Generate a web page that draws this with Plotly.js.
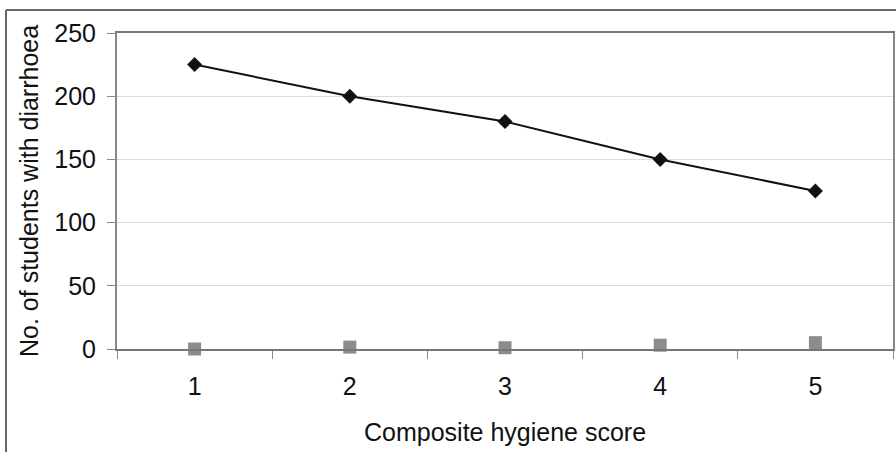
<!DOCTYPE html>
<html><head><meta charset="utf-8">
<script src="https://cdn.plot.ly/plotly-3.0.1.min.js"></script>
<style>html,body{margin:0;padding:0;background:#fff;}</style>
</head><body>
<div id="chart" style="width:896px;height:452px;"></div>
<script>
var categories = ['1','2','3','4','5'];
var seriesA = [225, 200, 180, 150, 125];
var seriesB = [0, 1.5, 1, 3, 5];
var yTicks = [0, 50, 100, 150, 200, 250];

var L = 117, R = 3, T = 33, B = 103, W = 896, H = 452;
var pw = W - L - R, ph = H - T - B;
function px(x){ return (x - L) / pw; }
function py(y){ return (H - B - y) / ph; }

var traces = [
  {x: categories, y: seriesA, type: 'scatter', mode: 'lines+markers',
   line: {color: '#111111', width: 2},
   marker: {symbol: 'diamond', size: 11.5, color: '#111111'}, showlegend: false, cliponaxis: false},
  {x: categories, y: seriesB, type: 'scatter', mode: 'markers',
   marker: {symbol: 'square', size: 13, color: '#8c8c8c'}, showlegend: false, cliponaxis: false}
];

var font = {family: 'Liberation Sans, Arial, sans-serif', size: 25, color: '#111'};

var layout = {
  width: W, height: H,
  margin: {l: L, r: R, t: T, b: B, pad: 0},
  paper_bgcolor: '#fff', plot_bgcolor: '#fff',
  font: font,
  xaxis: {type: 'category', range: [-0.5, 4.5], tickson: 'boundaries',
          ticks: 'outside', ticklen: 8, tickcolor: '#888', tickwidth: 1,
          showline: true, linecolor: '#777', linewidth: 2, mirror: true,
          showgrid: false, zeroline: false, tickfont: font, ticklabelstandoff: 14, fixedrange: true},
  yaxis: {range: [0, 250], tickvals: yTicks, ticktext: yTicks.map(String),
          ticks: 'outside', ticklen: 8, tickcolor: '#888', tickwidth: 1,
          showline: true, linecolor: '#888', linewidth: 2, mirror: true,
          showgrid: true, gridcolor: '#dcdcdc', gridwidth: 1,
          zeroline: false, tickfont: font, ticklabelstandoff: 6, fixedrange: true},
  shapes: [
    {type: 'line', xref: 'paper', yref: 'paper', x0: px(6), x1: px(900), y0: py(10), y1: py(10),
     line: {color: '#666', width: 2}},
    {type: 'line', xref: 'paper', yref: 'paper', x0: px(6), x1: px(6), y0: py(10), y1: py(460),
     line: {color: '#666', width: 2}}
  ],
  annotations: [
    {text: 'No. of students with diarrhoea', xref: 'paper', yref: 'paper',
     x: px(29), y: py(191), xanchor: 'center', yanchor: 'middle', textangle: -90,
     showarrow: false, font: font},
    {text: 'Composite hygiene score', xref: 'paper', yref: 'paper',
     x: px(505), y: py(432), xanchor: 'center', yanchor: 'middle',
     showarrow: false, font: font}
  ]
};

Plotly.newPlot('chart', traces, layout, {displayModeBar: false, staticPlot: true});
</script>
</body></html>
